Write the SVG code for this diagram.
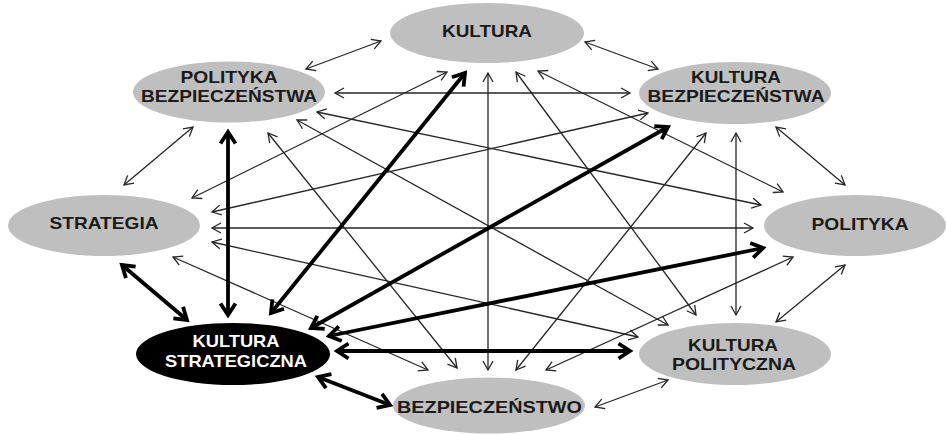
<svg xmlns="http://www.w3.org/2000/svg" width="946" height="435" viewBox="0 0 946 435">
<defs>
<style>
.nd{fill:#bfbfbf}
.ndk{fill:#000}
.t{font-family:"Liberation Sans",Arial,sans-serif;font-weight:bold;font-size:17px;fill:#1a1a1a;text-anchor:middle}
.tw{fill:#fff}
.th{stroke:#262626;stroke-width:1.3;fill:none;marker-start:url(#ah);marker-end:url(#ah)}
.bd{stroke:#000;stroke-width:3.8;fill:none;marker-start:url(#ab);marker-end:url(#ab)}
</style>
<marker id="ah" markerUnits="userSpaceOnUse" viewBox="-10 -6 12 12" refX="0" refY="0" markerWidth="12" markerHeight="12" orient="auto-start-reverse" overflow="visible">
<path d="M-9,-5 L0,0 L-9,5" fill="none" stroke="#262626" stroke-width="1.3"/>
</marker>
<marker id="ab" markerUnits="userSpaceOnUse" viewBox="-14 -9 16 18" refX="0" refY="0" markerWidth="16" markerHeight="18" orient="auto-start-reverse" overflow="visible">
<path d="M-11.5,-7.5 L0,0 L-11.5,7.5" fill="none" stroke="#000" stroke-width="3.8"/>
</marker>
</defs>
<rect width="946" height="435" fill="#fff"/>
<g id="connectors">
<line class="th" x1="306" y1="69" x2="381" y2="41"/>
<line class="th" x1="193" y1="127" x2="124" y2="185"/>
<line class="th" x1="335" y1="93" x2="630" y2="93"/>
<line class="th" x1="317" y1="112" x2="761" y2="205"/>
<line class="th" x1="297" y1="120" x2="668" y2="325"/>
<line class="th" x1="268" y1="133" x2="457" y2="368"/>
<line class="th" x1="192" y1="198" x2="447" y2="72"/>
<line class="th" x1="212" y1="212" x2="648" y2="113"/>
<line class="th" x1="212" y1="228" x2="753" y2="228"/>
<line class="th" x1="212" y1="242" x2="638" y2="337"/>
<line class="th" x1="173" y1="257" x2="428" y2="370"/>
<line class="th" x1="488" y1="73" x2="488" y2="370"/>
<line class="th" x1="516" y1="72" x2="696" y2="315"/>
<line class="th" x1="538" y1="71" x2="783" y2="192"/>
<line class="th" x1="585" y1="42" x2="658" y2="69"/>
<line class="th" x1="776" y1="127" x2="845" y2="185"/>
<line class="th" x1="736" y1="133" x2="736" y2="315"/>
<line class="th" x1="706" y1="133" x2="516" y2="370"/>
<line class="th" x1="793" y1="257" x2="546" y2="370"/>
<line class="th" x1="845" y1="265" x2="776" y2="322"/>
<line class="th" x1="668" y1="380" x2="595" y2="407"/>
<line class="bd" x1="228" y1="132" x2="228" y2="315"/>
<line class="bd" x1="122" y1="265" x2="187" y2="320"/>
<line class="bd" x1="465" y1="73" x2="271" y2="313"/>
<line class="bd" x1="668" y1="127" x2="311" y2="328"/>
<line class="bd" x1="763" y1="248" x2="329" y2="336"/>
<line class="bd" x1="630" y1="351" x2="337" y2="351"/>
<line class="bd" x1="390" y1="405" x2="318" y2="377"/>
</g>
<g id="kultura">
<ellipse class="nd" cx="487" cy="33" rx="97" ry="30"/>
<text class="t" x="487" y="37" textLength="90" lengthAdjust="spacingAndGlyphs">KULTURA</text>
</g>
<g id="polityka-bezpieczenstwa">
<ellipse class="nd" cx="229" cy="92" rx="96" ry="30.5"/>
<text class="t" x="229" y="83" textLength="97" lengthAdjust="spacingAndGlyphs">POLITYKA</text>
<text class="t" x="229" y="102" textLength="176" lengthAdjust="spacingAndGlyphs">BEZPIECZEŃSTWA</text>
</g>
<g id="kultura-bezpieczenstwa">
<ellipse class="nd" cx="735" cy="93" rx="96" ry="31"/>
<text class="t" x="736" y="83" textLength="90" lengthAdjust="spacingAndGlyphs">KULTURA</text>
<text class="t" x="736" y="102" textLength="177" lengthAdjust="spacingAndGlyphs">BEZPIECZEŃSTWA</text>
</g>
<g id="strategia">
<ellipse class="nd" cx="104" cy="225.5" rx="96" ry="30.5"/>
<text class="t" x="104" y="229" textLength="109" lengthAdjust="spacingAndGlyphs">STRATEGIA</text>
</g>
<g id="polityka">
<ellipse class="nd" cx="855" cy="225.5" rx="91" ry="30.5"/>
<text class="t" x="860" y="230" textLength="97" lengthAdjust="spacingAndGlyphs">POLITYKA</text>
</g>
<g id="kultura-strategiczna">
<ellipse class="ndk" cx="233" cy="354" rx="97" ry="31"/>
<text class="t tw" x="236" y="347" textLength="87" lengthAdjust="spacingAndGlyphs">KULTURA</text>
<text class="t tw" x="236" y="367" textLength="142" lengthAdjust="spacingAndGlyphs">STRATEGICZNA</text>
</g>
<g id="kultura-polityczna">
<ellipse class="nd" cx="735" cy="354" rx="96" ry="31"/>
<text class="t" x="733" y="351" textLength="90" lengthAdjust="spacingAndGlyphs">KULTURA</text>
<text class="t" x="734" y="370" textLength="124" lengthAdjust="spacingAndGlyphs">POLITYCZNA</text>
</g>
<g id="bezpieczenstwo">
<ellipse class="nd" cx="489" cy="405.5" rx="96" ry="28"/>
<text class="t" x="489.5" y="413" textLength="185" lengthAdjust="spacingAndGlyphs">BEZPIECZEŃSTWO</text>
</g>
</svg>
